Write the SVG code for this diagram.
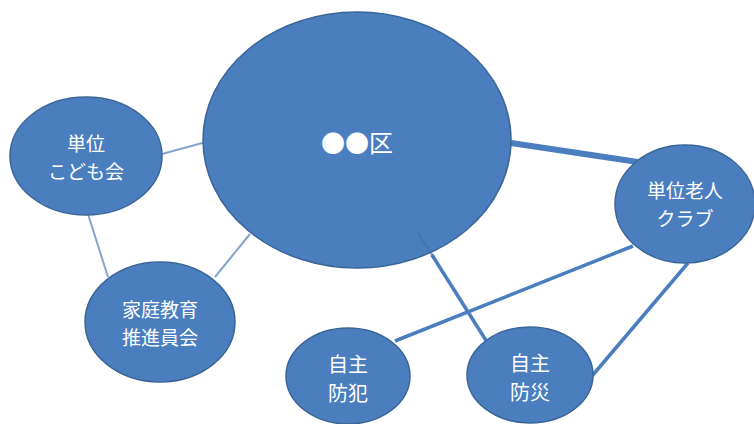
<svg xmlns="http://www.w3.org/2000/svg" width="754" height="424" viewBox="0 0 754 424">
<style>
.n{fill:#4a7ebf;stroke:#3b6597;stroke-width:1.5}
.t{fill:#ffffff;font-family:"Noto Sans CJK JP","Noto Sans",sans-serif;font-size:20px;text-anchor:middle}
.s{font-size:19px}
.thin{stroke:#86a3cb;stroke-width:2;fill:none}
.mid{stroke:#4a7ebf;stroke-width:3.5;fill:none}
.thick{stroke:#4a7ebf;stroke-width:6;fill:none}
</style>
<rect width="754" height="424" fill="#ffffff"/>
<g id="connectors">
<line class="thin" x1="162" y1="154" x2="206" y2="142"/>
<line class="thin" x1="88" y1="214" x2="108" y2="277"/>
<line class="thin" x1="215" y1="277" x2="250" y2="234"/>
<line class="thick" x1="511" y1="143" x2="638" y2="162"/>
<line class="mid" x1="633" y1="246" x2="395" y2="341"/>
<line class="mid" x1="688" y1="263" x2="592" y2="376"/>
<line class="mid" x1="432" y1="255" x2="487" y2="342"/>
</g>
<g id="n-ku"><ellipse class="n" cx="357" cy="140" rx="154" ry="128"/><text class="t" x="357" y="152" style="font-size:24px">●●区</text></g>
<line id="inner-seg" x1="418" y1="233" x2="434" y2="258" stroke="#3f72b0" stroke-width="3" opacity="0.6"/>
<g id="n-kodomo"><ellipse class="n" cx="86" cy="156" rx="76" ry="59"/><text class="t s" x="86" y="151">単位</text><text class="t s" x="86" y="179">こども会</text></g>
<g id="n-katei"><ellipse class="n" cx="160" cy="322" rx="75" ry="60"/><text class="t s" x="160" y="317">家庭教育</text><text class="t s" x="160" y="345">推進員会</text></g>
<g id="n-bohan"><ellipse class="n" cx="348" cy="376" rx="62" ry="48"/><text class="t" x="348" y="372">自主</text><text class="t" x="348" y="401">防犯</text></g>
<g id="n-bosai"><ellipse class="n" cx="530" cy="375" rx="63" ry="48"/><text class="t" x="530" y="371">自主</text><text class="t" x="530" y="400">防災</text></g>
<g id="n-rojin"><ellipse class="n" cx="685" cy="204" rx="70" ry="59"/><text class="t s" x="685" y="198">単位老人</text><text class="t s" x="685" y="226">クラブ</text></g>
</svg>
